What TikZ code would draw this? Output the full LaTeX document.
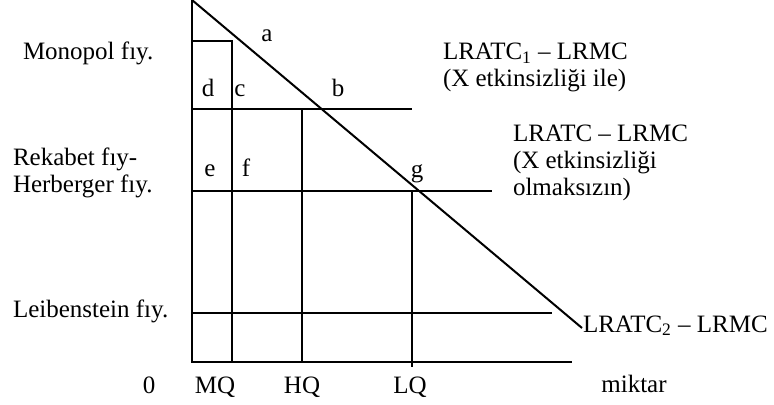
\documentclass[tikz,border=0pt]{standalone}
\usepackage{fontspec}
\setmainfont{Liberation Serif}
\usetikzlibrary{positioning}

\begin{document}
\begin{tikzpicture}[
    x=0.5pt, y=-0.5pt, line width=1pt,
    txt/.style={font=\fontsize{12.5}{13.5}\selectfont, inner sep=0pt, anchor=base west, align=left},
    letter/.style={font=\fontsize{12.5}{13.5}\selectfont, inner sep=0pt, anchor=base},
]
    \useasboundingbox (0,0) rectangle (774,405);
    % axes and demand line
    \coordinate (ytop) at (192,0);
    \coordinate (O) at (192,362);
    \coordinate (xend) at (572,362);
    \coordinate (dend) at (582,328);
    \draw (ytop) -- (O) -- (xend);
    \draw (ytop) -- (dend);
    % monopoly box
    \coordinate (pm) at (192,41);
    \coordinate (pmq) at (232,41);
    \coordinate (mq) at (232,362);
    \draw (pm) -- (pmq) -- (mq);
    % cost lines
    \coordinate (p1) at (192,109);
    \coordinate (p1e) at (412,109);
    \draw (p1) -- (p1e);
    \coordinate (hqt) at (302,109);
    \coordinate (hq) at (302,362);
    \draw (hqt) -- (hq);
    \coordinate (pc) at (192,191);
    \coordinate (pce) at (492,191);
    \draw (pc) -- (pce);
    \coordinate (lqt) at (412,191);
    \coordinate (lq) at (412,367);
    \draw (lqt) -- (lq);
    \coordinate (pl) at (192,313);
    \coordinate (ple) at (552,313);
    \draw (pl) -- (ple);
    % point letters
    \node[letter] (la) at (267,42) {a};
    \node[letter] (ld) at (208,97) {d};
    \node[letter] (lc) at (240,97) {c};
    \node[letter] (lb) at (338,97) {b};
    \node[letter] (le) at (210,177) {e};
    \node[letter] (lf) at (246,177) {f};
    \node[letter] (lg) at (417,178) {g};
    % axis labels
    \node[letter] (zero) at (149,393) {0};
    \node[letter] (lmq) at (215,393) {MQ};
    \node[letter] (lhq) at (302,393) {HQ};
    \node[letter] (llq) at (410,393) {LQ};
    \node[letter] (miktar) at (634,392) {miktar};
    % price labels
    \node[txt] (monopol) at (22,60) {Monopol fıy.};
    \node[txt] (rekabet) at (12,193) {Rekabet fıy-\\Herberger fıy.};
    \node[txt] (leib) at (12,317) {Leibenstein fıy.};
    % cost curve labels
    \node[txt] (c1) at (442,87) {LRATC\textsubscript{1} – LRMC\\(X etkinsizliği ile)};
    \node[txt] (c0) at (512,196) {LRATC – LRMC\\(X etkinsizliği\\olmaksızın)};
    \node[txt] (c2) at (582,332) {LRATC\textsubscript{2} – LRMC};
\end{tikzpicture}
\end{document}
